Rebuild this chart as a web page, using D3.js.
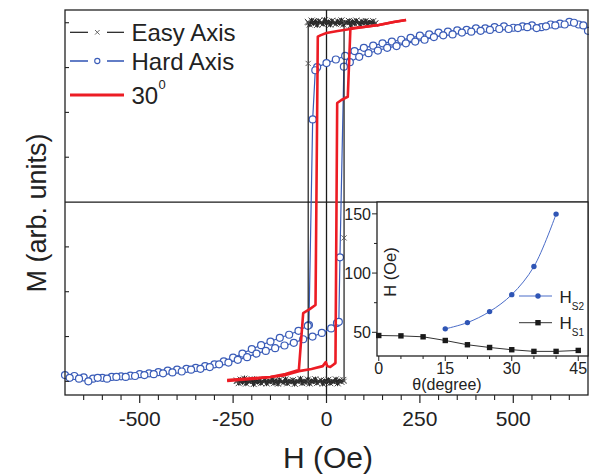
<!DOCTYPE html>
<html><head><meta charset="utf-8">
<script src="https://cdn.jsdelivr.net/npm/d3@7"></script>
<style>body{margin:0;background:#fff}svg{display:block;font-family:"Liberation Sans",Arial,sans-serif}</style>
</head><body><svg id="c" width="589" height="474"></svg>
<script>
// ---------- main chart data (H in Oe, M in arb. units) ----------
const xTicksMajor = [-500, -250, 0, 250, 500];
const xTicksMinor = [-650,-600,-550,-450,-400,-350,-300,-200,-150,-100,-50,50,100,150,200,300,350,400,450,550,600,650];
const yTicksMajor = [-1, -0.75, -0.5, -0.25, 0.25, 0.5, 0.75, 1];

// Easy axis loop vertices
const easyLoopH = [-240, 47, 47, 47, 132, -49, -49, -49, -240];
const easyLoopM = [-1, -1, -0.2, 1, 1, 1, 0.773, -1, -1];
// Easy axis noisy saturation points
const easyTopH = [-50,-45,-40,-35,-30,-25,-20,-15,-10,-5,0,5,10,15,20,25,30,35,40,45,50,55,60,65,70,75,80,85,90,95,100,105,110,115,120,125,130];
const easyTopM = [1.005,0.99,1.012,0.995,1.008,0.988,1.01,1.0,0.992,1.015,0.997,1.006,0.989,1.011,1.0,0.993,1.009,0.996,1.013,0.99,1.004,0.998,1.01,0.987,1.007,0.995,1.012,1.0,0.991,1.008,0.996,1.01,0.993,1.005,0.998,1.009,0.994];
const easyBotH = [-240,-235,-230,-225,-220,-215,-210,-205,-200,-195,-190,-185,-180,-175,-170,-165,-160,-155,-150,-145,-140,-135,-130,-125,-120,-115,-110,-105,-100,-95,-90,-85,-80,-75,-70,-65,-60,-55,-50,-45,-40,-35,-30,-25,-20,-15,-10,-5,0,5,10,15,20,25,30,35,40,45];
const easyBotM = [-0.995,-1.01,-0.99,-1.005,-0.985,-1.012,-0.998,-1.003,-0.988,-1.015,-0.996,-1.006,-0.99,-1.01,-1.0,-0.992,-1.012,-0.997,-1.004,-0.987,-1.009,-0.995,-1.013,-0.991,-1.002,-1.008,-0.989,-1.011,-0.996,-1.005,-0.993,-1.014,-0.998,-1.003,-0.986,-1.01,-0.997,-1.007,-0.99,-1.012,-0.995,-1.004,-0.988,-1.009,-1.0,-0.993,-1.013,-0.996,-1.006,-0.991,-1.01,-0.998,-1.004,-0.989,-1.011,-0.995,-1.003,-0.992];

// Hard axis: descending branch
const hardDescH = [700,675,650,625,600,575,550,525,500,475,450,425,400,375,350,325,300,275,250,225,200,175,150,125,100,75,50,25,0,-25,-30,-37,-47,-50,-75,-100,-125,-150,-175,-200,-225,-250,-275,-300,-325,-350,-375,-400,-425,-450,-475,-500,-525,-550,-575,-600,-625,-650,-675,-700];
const hardDescM = [0.955,0.99,1.005,0.995,0.99,0.975,0.985,0.98,0.972,0.98,0.975,0.968,0.968,0.96,0.957,0.95,0.945,0.935,0.928,0.915,0.905,0.895,0.885,0.872,0.86,0.842,0.815,0.795,0.775,0.752,0.735,0.461,-0.686,-0.69,-0.718,-0.74,-0.757,-0.778,-0.798,-0.82,-0.845,-0.868,-0.888,-0.905,-0.915,-0.925,-0.93,-0.935,-0.94,-0.948,-0.955,-0.96,-0.968,-0.972,-0.975,-0.98,-0.985,-0.978,-0.97,-0.965];
// Hard axis: ascending branch
const hardAscH = [-687.5,-662.5,-637.5,-612.5,-587.5,-562.5,-537.5,-512.5,-487.5,-462.5,-437.5,-412.5,-387.5,-362.5,-337.5,-312.5,-287.5,-262.5,-237.5,-212.5,-187.5,-162.5,-137.5,-112.5,-87.5,-62.5,-37.5,-12.5,12.5,28,33,36,46.5,62.5,87.5,112.5,137.5,162.5,187.5,212.5,237.5,262.5,287.5,312.5,337.5,362.5,387.5,412.5,437.5,462.5,487.5,512.5,537.5,562.5,587.5,612.5,637.5,662.5,687.5];
const hardAscM = [-0.98,-0.985,-1.0,-0.98,-0.985,-0.975,-0.975,-0.97,-0.965,-0.96,-0.955,-0.95,-0.945,-0.935,-0.93,-0.92,-0.905,-0.895,-0.88,-0.865,-0.845,-0.83,-0.815,-0.8,-0.785,-0.765,-0.75,-0.73,-0.705,-0.675,-0.668,-0.308,0.755,0.78,0.81,0.83,0.845,0.86,0.87,0.885,0.895,0.905,0.92,0.93,0.935,0.945,0.95,0.955,0.96,0.965,0.965,0.97,0.975,0.97,0.98,0.985,0.99,1.0,0.985];

// 30 degree: ascending and descending
const redAscH = [-266,-230,-190,-150,-110,-74,-40,-10,-2,2,10,20,24,28.6,40,50,57,64,100,140,180,213];
const redAscM = [-0.993,-0.987,-0.982,-0.976,-0.965,-0.943,-0.931,-0.915,-0.892,-0.915,-0.92,-0.904,-0.898,0.552,0.569,0.58,0.587,0.969,0.976,0.987,1.004,1.015];
const redDescH = [213,180,140,100,64,30,0,-15,-23.3,-29.4,-45,-62.4,-74,-110,-150,-200,-266];
const redDescM = [1.015,1.004,0.987,0.976,0.965,0.954,0.943,0.931,0.922,-0.574,-0.597,-0.619,-0.937,-0.959,-0.976,-0.987,-0.998];

// ---------- inset data ----------
const theta = [0,5,10,15,20,25,30,35,40,45];
const hs1 = [47.3,47.0,46.2,43.1,39.5,37.2,35.3,33.9,33.9,34.7];
const thetaS2 = [15,20,25,30,35,40];
const hs2 = [52.9,58.2,67.5,81.8,105.5,149.8];
const inXTicks = [0,15,30,45];
const inXMinor = [5,10,20,25,35,40];
const inYTicks = [50,100,150];
const inYMinor = [75,125];

const legendLabels = ["Easy Axis","Hard Axis","30"];

// ---------- drawing ----------
const svg = d3.select("#c");
const BLUE = "#3a5cb8", RED = "#ec1c24", BLACK = "#1a1a1a";
const x = d3.scaleLinear().domain([-700, 700]).range([65, 588]);
const y = d3.scaleLinear().domain([-1.076, 1.071]).range([395, 10]);
const zip = (a, b) => a.map((v, i) => [v, b[i]]);
const line = d3.line().x(d => x(d[0])).y(d => y(d[1]));

// zero lines
svg.append("line").attr("x1", x(0)).attr("x2", x(0)).attr("y1", y.range()[1]).attr("y2", y.range()[0]).attr("stroke", BLACK).attr("stroke-width", 1.3);
svg.append("line").attr("x1", x.range()[0]).attr("x2", x.range()[1]).attr("y1", y(0)).attr("y2", y(0)).attr("stroke", BLACK).attr("stroke-width", 1.3);

// hard axis
const gHard = svg.append("g");
[zip(hardDescH, hardDescM), zip(hardAscH, hardAscM)].forEach(data => {
  gHard.append("path").datum(data).attr("d", line).attr("fill", "none").attr("stroke", BLUE).attr("stroke-width", 1.2);
});
[zip(hardDescH, hardDescM), zip(hardAscH, hardAscM)].forEach(data => {
  gHard.selectAll(null).data(data).enter().append("circle")
    .attr("cx", d => x(d[0])).attr("cy", d => y(d[1])).attr("r", 3.5)
    .attr("fill", "#fff").attr("stroke", BLUE).attr("stroke-width", 1.2);
});

// easy axis
const gEasy = svg.append("g");
const xMark = (px, py, s) => `M${px - s},${py - s}L${px + s},${py + s}M${px - s},${py + s}L${px + s},${py - s}`;
gEasy.append("path").datum(zip(easyLoopH, easyLoopM)).attr("d", line).attr("fill", "none").attr("stroke", BLACK).attr("stroke-width", 1.2);
[zip(easyTopH, easyTopM), zip(easyBotH, easyBotM)].forEach(data => {
  gEasy.append("path").datum(data).attr("d", line).attr("fill", "none").attr("stroke", "#222").attr("stroke-width", 3);
  gEasy.selectAll(null).data(data).enter().append("path")
    .attr("d", d => xMark(x(d[0]), y(d[1]), 3)).attr("stroke", "#333").attr("stroke-width", 0.9);
});
gEasy.selectAll(null).data(zip(easyLoopH, easyLoopM)).enter().append("path")
  .attr("d", d => xMark(x(d[0]), y(d[1]), 2.6)).attr("stroke", "#555").attr("stroke-width", 0.9);

// 30 degree
[zip(redAscH, redAscM), zip(redDescH, redDescM)].forEach(data => {
  svg.append("path").datum(data).attr("d", line).attr("fill", "none").attr("stroke", RED).attr("stroke-width", 2.6).attr("stroke-linejoin", "round");
});

// frame
svg.append("rect").attr("x", x.range()[0]).attr("y", y.range()[1]).attr("width", x.range()[1] - x.range()[0]).attr("height", y.range()[0] - y.range()[1])
  .attr("fill", "none").attr("stroke", "#222").attr("stroke-width", 1.3);

// x axis ticks (outward)
svg.selectAll(null).data(xTicksMajor).enter().append("line")
  .attr("x1", d => x(d)).attr("x2", d => x(d)).attr("y1", y.range()[0]).attr("y2", y.range()[0] + 8).attr("stroke", "#222").attr("stroke-width", 1.2);
svg.selectAll(null).data(xTicksMinor).enter().append("line")
  .attr("x1", d => x(d)).attr("x2", d => x(d)).attr("y1", y.range()[0]).attr("y2", y.range()[0] + 5).attr("stroke", "#222").attr("stroke-width", 1.1);
svg.selectAll(null).data(xTicksMajor).enter().append("text")
  .attr("x", d => x(d)).attr("y", 426).attr("text-anchor", "middle").attr("font-size", 21).attr("fill", "#222")
  .text(d => String(d));
// y ticks (inward)
svg.selectAll(null).data(yTicksMajor).enter().append("line")
  .attr("x1", x.range()[0]).attr("x2", x.range()[0] + 4).attr("y1", d => y(d)).attr("y2", d => y(d)).attr("stroke", "#222").attr("stroke-width", 1.1);

// axis titles
svg.append("text").attr("x", 328).attr("y", 468).attr("text-anchor", "middle").attr("font-size", 30).attr("fill", "#222").text("H (Oe)");
svg.append("text").attr("transform", "translate(46,213) rotate(-90)").attr("text-anchor", "middle").attr("font-size", 27).attr("fill", "#222").text("M (arb. units)");

// legend
const lg = svg.append("g");
const legY = [32.3, 61, 95];
lg.append("line").attr("x1", 70).attr("x2", 88).attr("y1", legY[0]).attr("y2", legY[0]).attr("stroke", BLACK).attr("stroke-width", 1.2);
lg.append("line").attr("x1", 107).attr("x2", 124).attr("y1", legY[0]).attr("y2", legY[0]).attr("stroke", BLACK).attr("stroke-width", 1.2);
lg.append("path").attr("d", xMark(97.3, legY[0], 2.3)).attr("stroke", "#555").attr("stroke-width", 0.9);
lg.append("line").attr("x1", 70).attr("x2", 88).attr("y1", legY[1]).attr("y2", legY[1]).attr("stroke", BLUE).attr("stroke-width", 1.6);
lg.append("line").attr("x1", 107).attr("x2", 124).attr("y1", legY[1]).attr("y2", legY[1]).attr("stroke", BLUE).attr("stroke-width", 1.6);
lg.append("circle").attr("cx", 97.3).attr("cy", legY[1]).attr("r", 2.6).attr("fill", "#fff").attr("stroke", BLUE).attr("stroke-width", 1.1);
lg.append("line").attr("x1", 70).attr("x2", 124).attr("y1", legY[2]).attr("y2", legY[2]).attr("stroke", RED).attr("stroke-width", 2.8);
legendLabels.forEach((t, i) => {
  lg.append("text").attr("x", 131.5).attr("y", legY[i] + 8.6).attr("font-size", 24).attr("fill", "#222").text(t);
});
lg.append("text").attr("x", 158.5).attr("y", 89).attr("font-size", 13).attr("fill", "#222").text("0");

// ---------- inset ----------
const xi = d3.scaleLinear().domain([-0.4, 47.2]).range([377, 588]);
const yi = d3.scaleLinear().domain([30, 160]).range([356, 202]);
const gi = svg.append("g");
gi.append("rect").attr("x", xi.range()[0]).attr("y", yi.range()[1]).attr("width", xi.range()[1] - xi.range()[0]).attr("height", yi.range()[0] - yi.range()[1])
  .attr("fill", "#fff").attr("stroke", "#222").attr("stroke-width", 1.3);
// ticks
gi.selectAll(null).data(inXTicks).enter().append("line").attr("x1", d => xi(d)).attr("x2", d => xi(d)).attr("y1", yi.range()[0]).attr("y2", yi.range()[0] + 5).attr("stroke", "#222");
gi.selectAll(null).data(inXMinor).enter().append("line").attr("x1", d => xi(d)).attr("x2", d => xi(d)).attr("y1", yi.range()[0]).attr("y2", yi.range()[0] + 3).attr("stroke", "#222");
gi.selectAll(null).data(inYTicks).enter().append("line").attr("x1", xi.range()[0] - 5).attr("x2", xi.range()[0]).attr("y1", d => yi(d)).attr("y2", d => yi(d)).attr("stroke", "#222");
gi.selectAll(null).data(inYMinor).enter().append("line").attr("x1", xi.range()[0] - 3).attr("x2", xi.range()[0]).attr("y1", d => yi(d)).attr("y2", d => yi(d)).attr("stroke", "#222");
gi.selectAll(null).data(inXTicks).enter().append("text").attr("x", d => xi(d)).attr("y", 373.5).attr("text-anchor", "middle").attr("font-size", 16).attr("fill", "#222").text(d => d);
gi.selectAll(null).data(inYTicks).enter().append("text").attr("x", 371).attr("y", d => yi(d) + 5.8).attr("text-anchor", "end").attr("font-size", 16).attr("fill", "#222").text(d => d);
gi.append("text").attr("x", 447).attr("y", 389.5).attr("text-anchor", "middle").attr("font-size", 16).attr("fill", "#222").text("θ(degree)");
gi.append("text").attr("transform", "translate(396,272) rotate(-90)").attr("text-anchor", "middle").attr("font-size", 16.5).attr("fill", "#222").text("H (Oe)");
// series
const li = d3.line().x(d => xi(d[0])).y(d => yi(d[1]));
gi.append("path").datum(zip(theta, hs1)).attr("d", li).attr("fill", "none").attr("stroke", "#333").attr("stroke-width", 1);
gi.append("path").datum(zip(thetaS2, hs2)).attr("d", li.curve(d3.curveCatmullRom.alpha(0.5))).attr("fill", "none").attr("stroke", "#4a6cc8").attr("stroke-width", 1);
gi.selectAll(null).data(zip(theta, hs1)).enter().append("rect")
  .attr("x", d => xi(d[0]) - 2.7).attr("y", d => yi(d[1]) - 2.7).attr("width", 5.4).attr("height", 5.4).attr("fill", "#1a1a1a");
gi.selectAll(null).data(zip(thetaS2, hs2)).enter().append("circle")
  .attr("cx", d => xi(d[0])).attr("cy", d => yi(d[1])).attr("r", 2.7).attr("fill", "#2f55b5");
// inset legend
gi.append("line").attr("x1", 519).attr("x2", 552).attr("y1", 296).attr("y2", 296).attr("stroke", "#4a6cc8").attr("stroke-width", 1);
gi.append("circle").attr("cx", 538).attr("cy", 296).attr("r", 2.7).attr("fill", "#2f55b5");
gi.append("line").attr("x1", 519).attr("x2", 552).attr("y1", 322.7).attr("y2", 322.7).attr("stroke", "#333").attr("stroke-width", 1);
gi.append("rect").attr("x", 535.3).attr("y", 320).attr("width", 5.4).attr("height", 5.4).attr("fill", "#1a1a1a");
[["S2", 302.5], ["S1", 329]].forEach(([s, by]) => {
  const t = gi.append("text").attr("x", 559.5).attr("y", by).attr("font-size", 17).attr("fill", "#222");
  t.append("tspan").text("H");
  t.append("tspan").attr("font-size", 10).attr("dy", 7).text(s);
});
</script></body></html>
